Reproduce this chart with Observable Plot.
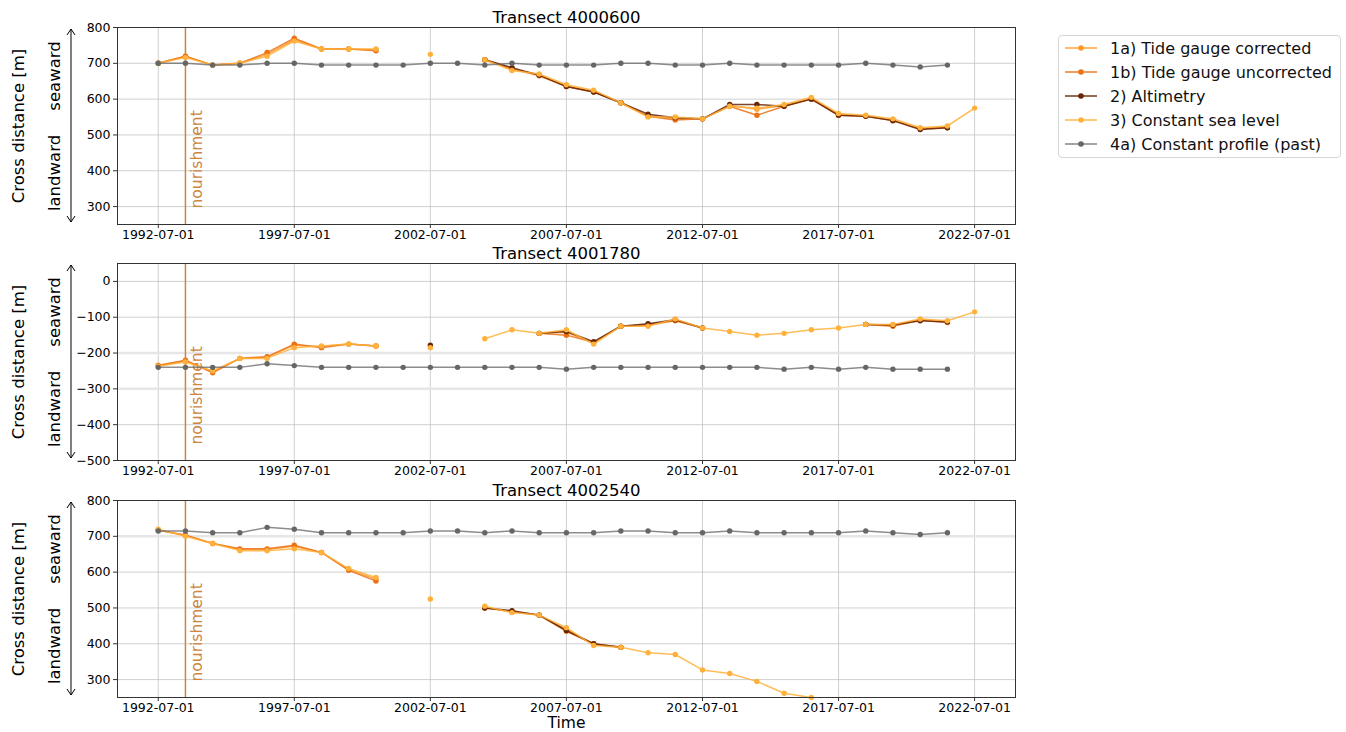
<!DOCTYPE html>
<html><head><meta charset="utf-8">
<script src="https://cdn.jsdelivr.net/npm/d3@7"></script>
<script src="https://cdn.jsdelivr.net/npm/@observablehq/plot@0.6"></script>
<style>
body{margin:0;background:#fff;font-family:"DejaVu Sans",sans-serif;}
#root{position:relative;width:1346px;height:732px;overflow:hidden;}
.panel{position:absolute;left:0;}
#legend{position:absolute;left:1058px;top:35px;width:283px;height:123px;border:1px solid #d6d6d6;border-radius:4px;background:#fff;box-sizing:border-box;padding-top:0px;}
.lrow{height:24px;display:flex;align-items:center;font-size:16px;color:#111;white-space:nowrap;}
.lrow svg{margin-left:5px;margin-right:12px;}
</style>
</head><body><div id="root"></div>
<script>
// ---------- data ----------
const years = [1992,1993,1994,1995,1996,1997,1998,1999,2000,2001,2002,2003,2004,2005,2006,2007,2008,2009,2010,2011,2012,2013,2014,2015,2016,2017,2018,2019,2020,2021,2022];
const xTickLabels = ["1992-07-01","1997-07-01","2002-07-01","2007-07-01","2012-07-01","2017-07-01","2022-07-01"];
const nourishmentDate = "1993-07-01";
const seriesNames = ["1a) Tide gauge corrected","1b) Tide gauge uncorrected","2) Altimetry","3) Constant sea level","4a) Constant profile (past)"];
const seriesColors = ["#fe9929","#ec7014","#662506","#ffb13b","#666666"];
const transectTitles = ["Transect 4000600","Transect 4001780","Transect 4002540"];
const yTicksA = [300,400,500,600,700,800];
const yTicksB = [-500,-400,-300,-200,-100,0];
const yDomainA = [250,800];
const yDomainB = [-500,50];
const bandsB = [-200,-300];
const bandsC = [700];

// Transect 4000600
const t1_tgCorr   = [700,720,695,700,725,765,740,740,738,null,null,null,710,684,668,637,622,590,553,546,545,582,572,582,602,557,553,542,518,522,null];
const t1_tgUncorr = [700,720,695,700,730,770,740,740,735,null,null,null,710,685,665,635,620,590,552,542,545,580,555,580,600,555,552,540,517,520,null];
const t1_alt      = [null,null,null,null,null,null,null,null,null,null,null,null,710,688,667,635,620,590,558,548,545,585,585,580,600,555,552,540,515,520,null];
const t1_const    = [700,716,695,700,720,762,740,740,740,null,725,null,710,680,670,640,625,590,550,550,545,580,575,585,605,560,555,545,520,525,575];
const t1_profile  = [700,700,695,695,700,700,695,695,695,695,700,700,695,700,695,695,695,700,700,695,695,700,695,695,695,695,700,695,690,695,null];

// Transect 4001780
const t2_tgCorr   = [-234,-222,-252,-215,-212,-178,-182,-175,-180,null,null,null,null,null,-145,-142,-172,-125,-122,-107,-130,null,null,null,null,null,-120,-122,-107,-112,null];
const t2_tgUncorr = [-235,-220,-255,-215,-210,-175,-185,-175,-180,null,null,null,null,null,-145,-150,-170,-125,-122,-110,-130,null,null,null,null,null,-120,-125,-108,-115,null];
const t2_alt      = [null,null,null,null,null,null,null,null,null,null,-178,null,null,null,-145,-140,-168,-125,-118,-107,-130,null,null,null,null,null,-120,-122,-110,-113,null];
const t2_const    = [-237,-225,-250,-215,-215,-185,-180,-175,-180,null,-185,null,-160,-135,-145,-135,-175,-125,-125,-105,-130,-140,-150,-145,-135,-130,-120,-120,-105,-110,-85];
const t2_profile  = [-240,-240,-240,-240,-230,-235,-240,-240,-240,-240,-240,-240,-240,-240,-240,-245,-240,-240,-240,-240,-240,-240,-240,-245,-240,-245,-240,-245,-245,-245,null];

// Transect 4002540
const t3_tgCorr   = [718,703,680,663,663,672,655,607,580,null,null,null,502,489,480,440,398,390,null,null,null,null,null,null,null,null,null,null,null,null,null];
const t3_tgUncorr = [717,703,680,665,665,675,655,605,575,null,null,null,500,490,480,435,400,390,null,null,null,null,null,null,null,null,null,null,null,null,null];
const t3_alt      = [null,null,null,null,null,null,null,null,null,null,null,null,500,492,480,437,400,390,null,null,null,null,null,null,null,null,null,null,null,null,null];
const t3_const    = [720,700,680,660,660,665,655,610,585,null,525,null,505,487,480,445,395,390,375,370,327,317,295,262,250,null,null,null,null,null,null];
const t3_profile  = [715,715,710,710,725,720,710,710,710,710,715,715,710,715,710,710,710,715,715,710,710,715,710,710,710,710,715,710,705,710,null];

// ---------- layout ----------
const W = 1020, ML = 117, MR = 5, MT = 27, PH = 197;
const panels = [
  {title: transectTitles[0], series:[t1_tgCorr,t1_tgUncorr,t1_alt,t1_const,t1_profile], domain: yDomainA, ticks: yTicksA, bands: [], top: 0, mb: 30},
  {title: transectTitles[1], series:[t2_tgCorr,t2_tgUncorr,t2_alt,t2_const,t2_profile], domain: yDomainB, ticks: yTicksB, bands: bandsB, top: 236, mb: 30},
  {title: transectTitles[2], series:[t3_tgCorr,t3_tgUncorr,t3_alt,t3_const,t3_profile], domain: yDomainA, ticks: yTicksA, bands: bandsC, top: 473, mb: 35, xlabel: "Time"}
];

const parse = d3.utcParse("%Y-%m-%d");
const dateOf = y => new Date(Date.UTC(y, 6, 1));
const xTicks = xTickLabels.map(parse);
const root = document.getElementById("root");
const nourish = [parse(nourishmentDate)];

panels.forEach((p, pi) => {
  const marks = [];
  marks.push(Plot.gridX(xTicks, {stroke: "#c4c4c4", strokeOpacity: 1, strokeWidth: 0.8}));
  marks.push(Plot.gridY(p.ticks, {stroke: "#c4c4c4", strokeOpacity: 1, strokeWidth: 0.8}));
  if (p.bands.length) marks.push(Plot.ruleY(p.bands, {stroke: "#e6e6e6", strokeWidth: 2.5}));
  marks.push(Plot.ruleX(nourish, {stroke: "#cd853f", strokeWidth: 1.5}));
  marks.push(Plot.text(nourish, {x: d => d, frameAnchor: "bottom", dx: 12, dy: -16, rotate: -90, textAnchor: "start", lineAnchor: "middle", text: () => "nourishment", fill: "#cd853f", fontSize: 15.5}));
  p.series.forEach((arr, si) => {
    const rows = years.map((y, i) => ({date: dateOf(y), value: arr[i]}));
    const color = seriesColors[si];
    marks.push(Plot.line(rows, {x: "date", y: "value", stroke: color, strokeWidth: 1.5, strokeOpacity: si === 4 ? 0.75 : 0.85}));
    marks.push(Plot.dot(rows.filter(r => r.value != null), {x: "date", y: "value", fill: color, r: 2.7, stroke: "none"}));
  });
  marks.push(Plot.frame({stroke: "#333", strokeWidth: 1}));
  marks.push(Plot.text([p.title], {frameAnchor: "top", dy: -10, text: d => d, textAnchor: "middle", lineAnchor: "middle", fontSize: 16.5, fill: "#000"}));
  marks.push(Plot.text(["Cross distance [m]"], {frameAnchor: "left", dx: -99, rotate: -90, text: d => d, textAnchor: "middle", lineAnchor: "middle", fontSize: 16.5, fill: "#000"}));
  marks.push(Plot.text(["seaward"], {frameAnchor: "left", dx: -63, dy: -50, rotate: -90, text: d => d, textAnchor: "middle", lineAnchor: "middle", fontSize: 16.5, fill: "#000"}));
  marks.push(Plot.text(["landward"], {frameAnchor: "left", dx: -63, dy: 47, rotate: -90, text: d => d, textAnchor: "middle", lineAnchor: "middle", fontSize: 16.5, fill: "#000"}));
  if (p.xlabel) marks.push(Plot.text([p.xlabel], {frameAnchor: "bottom", dy: 26, text: d => d, textAnchor: "middle", lineAnchor: "middle", fontSize: 15.5, fill: "#000"}));
  marks.push(Plot.axisX(xTicks, {tickFormat: d3.utcFormat("%Y-%m-%d"), tickSize: 4, tickPadding: 2, fontSize: 12.5, label: null, stroke: "#333", fill: "#000"}));
  marks.push(Plot.axisY(p.ticks, {tickSize: 4, tickPadding: 3, fontSize: 12.5, label: null, stroke: "#333", fill: "#000"}));

  const chart = Plot.plot({
    width: W, height: MT + PH + p.mb,
    marginLeft: ML, marginRight: MR, marginTop: MT, marginBottom: p.mb,
    style: {background: "transparent", fontFamily: "DejaVu Sans", overflow: "visible"},
    x: {type: "utc", domain: [parse("1991-01-01"), parse("2024-01-01")]},
    y: {domain: p.domain},
    marks
  });
  chart.classList.add("panel");
  chart.style.top = p.top + "px";
  chart.style.position = "absolute";
  root.appendChild(chart);

  // double-headed arrow beside the y label (decoration)
  const ov = d3.select(root).append("svg").attr("class", "panel")
    .style("top", (p.top + MT) + "px").attr("width", 90).attr("height", PH)
    .style("overflow", "visible");
  const ax = 71, y0 = 2, y1 = PH - 2;
  ov.append("line").attr("x1", ax).attr("x2", ax).attr("y1", y0).attr("y2", y1).attr("stroke", "#000").attr("stroke-width", 1);
  ov.append("path").attr("d", `M${ax-4},${y0+6}L${ax},${y0}L${ax+4},${y0+6}`).attr("fill", "none").attr("stroke", "#000").attr("stroke-width", 1);
  ov.append("path").attr("d", `M${ax-4},${y1-6}L${ax},${y1}L${ax+4},${y1-6}`).attr("fill", "none").attr("stroke", "#000").attr("stroke-width", 1);
});

// legend
const leg = document.createElement("div");
leg.id = "legend";
seriesNames.forEach((name, i) => {
  const row = document.createElement("div");
  row.className = "lrow";
  const c = seriesColors[i];
  row.innerHTML = `<svg width="34" height="10"><line x1="1" x2="33" y1="5" y2="5" stroke="${c}" stroke-width="1.6" stroke-opacity="${i===4?0.75:0.85}"/><circle cx="17" cy="5" r="2.8" fill="${c}"/></svg><span>${name}</span>`;
  leg.appendChild(row);
});
root.appendChild(leg);
</script>
</body></html>
